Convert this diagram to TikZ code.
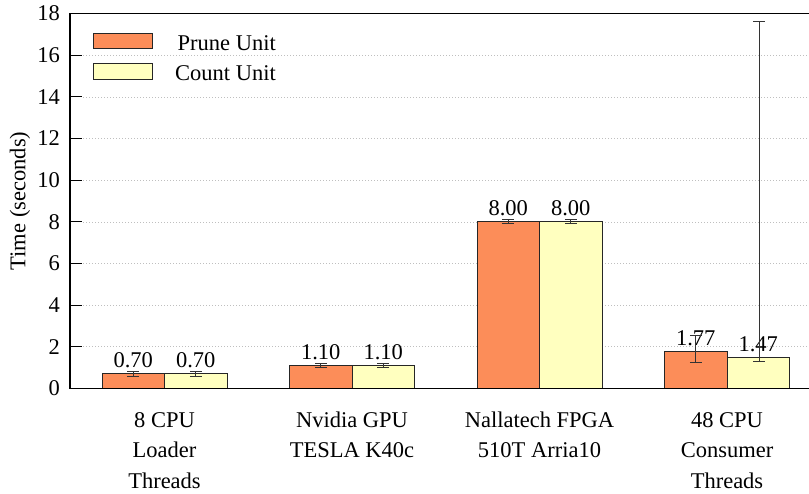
\documentclass[tikz,border=0pt]{standalone}
\usepackage{fontspec}
\setmainfont{Liberation Serif}
\definecolor{prunecol}{RGB}{252,141,89}
\definecolor{countcol}{RGB}{255,255,191}
\begin{document}
\begin{tikzpicture}[x=1pt,y=-1pt,
  lbl/.style={font=\fontsize{22.5}{30.5}\selectfont, inner sep=0pt},
  bar/.style={draw=black!85, line width=0.9pt},
  errbar/.style={draw=black!80, line width=0.9pt},
  grid/.style={draw=black!25, dash pattern=on 0.8pt off 2.2pt, line width=0.7pt},
  axis/.style={draw=black, line width=1.1pt}]
\useasboundingbox (0,0) rectangle (809,493);
% value-to-pixel mapping: y = 388.5 - 20.83*v
\def\yv#1{388.5-20.83*#1}

% horizontal grid lines and y ticks
\foreach \v in {2,4,...,16} {
  \draw[grid] (83,{\yv{\v}}) -- (809,{\yv{\v}});
}
\foreach \v in {0,2,...,18} {
  \draw[axis, line width=0.9pt] (70,{\yv{\v}}) -- (82,{\yv{\v}});
  \node[lbl, anchor=east] (yt\v) at (60,{\yv{\v}}) {\v};
}

% bars: prune (left) and count (right) in each group
\foreach \c/\p/\q/\i in {164.5/0.70/0.70/1, 352/1.10/1.10/2, 539.5/8.00/8.00/3, 727/1.77/1.47/4} {
  \filldraw[bar, fill=prunecol] ({\c-62.5},{\yv{0}}) rectangle (\c,{\yv{\p}});
  \filldraw[bar, fill=countcol] (\c,{\yv{0}}) rectangle ({\c+62.5},{\yv{\q}});
  \node[lbl, anchor=base] (vp\i) at ({\c-31.25},{\yv{\p}-6}) {\p};
  \node[lbl, anchor=base] (vc\i) at ({\c+31.25},{\yv{\q}-6}) {\q};
}

% error bars: x / low / high
\foreach \x/\lo/\hi in {133.25/0.60/0.80, 195.75/0.60/0.80,
                        320.75/1.00/1.20, 383.25/1.00/1.20,
                        508.25/7.90/8.10, 570.75/7.90/8.10,
                        695.75/1.27/2.53, 759.25/1.28/17.6} {
  \draw[errbar] (\x,{\yv{\lo}}) -- (\x,{\yv{\hi}});
  \draw[errbar] ({\x-6},{\yv{\lo}}) -- ({\x+6},{\yv{\lo}});
  \draw[errbar] ({\x-6},{\yv{\hi}}) -- ({\x+6},{\yv{\hi}});
}

% axes frame (left, bottom, top)
\draw[axis] (809,{\yv{18}}) -- (70,{\yv{18}}) -- (70,{\yv{0}}) -- (809,{\yv{0}});

% category labels
\foreach \c/\t/\i in {164.5/{8 CPU\\Loader\\Threads}/1,
                      352/{Nvidia GPU\\TESLA K40c}/2,
                      539.5/{Nallatech FPGA\\510T Arria10}/3,
                      727/{48 CPU\\Consumer\\Threads}/4} {
  \node[lbl, align=center, anchor=north] (cat\i) at (\c,405.65) {\strut\t};
}

% y axis title
\node[lbl, rotate=90] (ytitle) at (20,201) {Time (seconds)};

% legend
\filldraw[bar, fill=prunecol] (93,33) rectangle (152,48);
\filldraw[bar, fill=countcol] (93,63) rectangle (152,79);
\node[lbl, anchor=base east] (legp) at (276,50) {Prune Unit};
\node[lbl, anchor=base east] (legc) at (276,80) {Count Unit};
\end{tikzpicture}
\end{document}
